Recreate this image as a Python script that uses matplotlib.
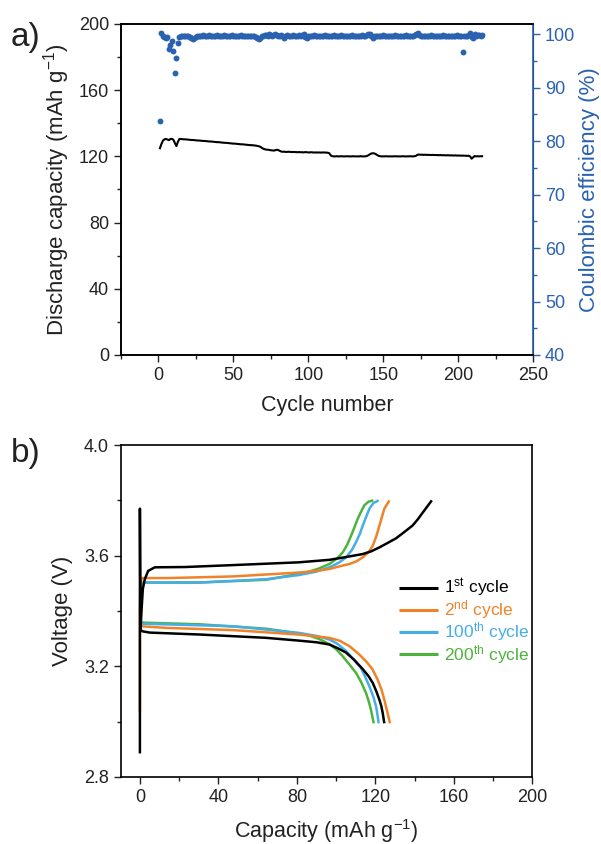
import matplotlib
matplotlib.use("Agg")
import matplotlib.pyplot as plt
import numpy as np
from matplotlib.ticker import MultipleLocator, FormatStrFormatter

plt.rcParams['font.family'] = ['Liberation Sans', 'DejaVu Sans']
plt.rcParams['mathtext.fontset'] = 'custom'
plt.rcParams['mathtext.rm'] = 'Liberation Sans'
plt.rcParams['mathtext.it'] = 'Liberation Sans:italic'

TXT = '#222222'
BLUE = '#2a62b0'

# ---- panel a: cycling data ----
cycles = np.arange(1, 217)

capacity = [
    124.9, 127.5, 129.5, 130.3, 130.5, 130.2, 129.8, 130.5, 130.6, 130.0, 128.0, 126.2,
    128.8, 130.5, 130.5, 130.4, 130.3, 130.3, 130.2, 130.1, 130.0, 129.9, 129.9, 129.8,
    129.7, 129.6, 129.6, 129.5, 129.4, 129.3, 129.3, 129.2, 129.1, 129.0, 129.0, 128.9,
    128.8, 128.7, 128.6, 128.6, 128.5, 128.4, 128.3, 128.2, 128.2, 128.1, 128.0, 127.9,
    127.8, 127.7, 127.7, 127.6, 127.5, 127.4, 127.3, 127.3, 127.2, 127.1, 127.0, 126.9,
    126.8, 126.8, 126.7, 126.6, 126.5, 126.3, 126.1, 125.8, 125.2, 124.6, 124.3, 124.1,
    124.0, 123.9, 123.7, 123.6, 123.5, 123.7, 124.0, 123.8, 123.3, 122.9, 122.8, 122.8,
    122.7, 122.7, 122.8, 122.7, 122.6, 122.7, 122.6, 122.6, 122.5, 122.6, 122.5, 122.5,
    122.4, 122.6, 122.5, 122.4, 122.4, 122.5, 122.4, 122.3, 122.4, 122.3, 122.4, 122.3,
    122.3, 122.4, 122.3, 122.3, 122.2, 121.9, 120.6, 120.1, 120.0, 120.0, 120.1, 120.0,
    120.0, 120.1, 120.0, 120.0, 120.0, 120.1, 120.0, 120.0, 120.0, 120.1, 120.0, 120.0,
    120.0, 120.0, 120.1, 120.0, 120.0, 120.0, 120.2, 120.6, 121.2, 121.7, 121.9, 121.8,
    121.4, 120.8, 120.3, 120.1, 120.0, 120.0, 120.0, 120.1, 120.0, 120.0, 120.0, 120.0,
    120.0, 120.1, 120.0, 120.0, 120.0, 120.0, 120.1, 120.0, 120.0, 120.0, 120.0, 120.1,
    120.0, 120.0, 120.1, 120.4, 121.0, 121.1, 121.0, 121.0, 120.9, 121.0, 120.9, 120.9,
    120.9, 120.8, 120.9, 120.8, 120.8, 120.8, 120.7, 120.8, 120.7, 120.7, 120.7, 120.6,
    120.7, 120.6, 120.6, 120.6, 120.5, 120.6, 120.5, 120.5, 120.5, 120.4, 120.5, 120.4,
    120.4, 120.3, 120.4, 120.0, 118.6, 119.4, 120.2, 120.0, 120.1, 120.0, 120.1, 120.1,
]

efficiency = [
    83.7, 100.2, 99.6, 99.5, 99.3, 99.4, 97.3, 97.9, 98.7, 96.9, 92.8, 95.5,
    98.3, 99.4, 99.6, 99.6, 99.7, 99.7, 99.7, 99.6, 99.5, 99.3, 99.1, 99.2,
    99.4, 99.6, 99.7, 99.7, 99.7, 99.8, 99.7, 99.7, 99.7, 99.8, 99.7, 99.7,
    99.7, 99.7, 99.8, 99.7, 99.7, 99.7, 99.7, 99.8, 99.7, 99.7, 99.7, 99.7,
    99.8, 99.7, 99.7, 99.7, 99.7, 99.7, 99.8, 99.7, 99.7, 99.7, 99.7, 99.7,
    99.7, 99.7, 99.7, 99.6, 99.5, 99.2, 99.0, 99.3, 99.6, 99.7, 99.8, 99.9,
    99.7, 100.0, 99.8, 99.7, 99.9, 100.1, 99.8, 99.6, 99.7, 99.9, 99.7, 99.3,
    99.7, 99.8, 99.7, 99.7, 99.7, 99.8, 99.7, 99.7, 99.7, 99.8, 99.7, 99.9,
    100.1, 99.4, 99.2, 99.6, 99.7, 99.7, 99.7, 99.8, 99.7, 99.7, 99.7, 99.7,
    99.7, 99.7, 99.8, 99.7, 99.7, 99.7, 99.7, 99.7, 99.8, 99.7, 99.7, 99.7,
    99.7, 99.8, 99.7, 99.7, 99.7, 99.7, 99.7, 99.7, 99.8, 99.7, 99.7, 99.7,
    99.7, 99.7, 99.7, 99.8, 99.7, 99.7, 99.8, 100.0, 100.1, 99.6, 99.3, 99.6,
    99.7, 99.7, 99.7, 99.7, 99.7, 99.8, 99.7, 99.7, 99.7, 99.7, 99.7, 99.7,
    99.7, 99.8, 99.7, 99.7, 99.7, 99.7, 99.7, 99.7, 99.8, 99.7, 99.7, 99.7,
    99.7, 99.7, 99.8, 100.0, 100.2, 99.9, 99.7, 99.7, 99.7, 99.7, 99.7, 99.7,
    99.7, 99.8, 99.7, 99.7, 99.7, 99.7, 99.7, 99.7, 99.7, 99.8, 99.7, 99.7,
    99.7, 99.7, 99.7, 99.7, 99.7, 99.7, 99.8, 99.7, 99.7, 99.7, 96.6, 99.7,
    99.7, 99.6, 99.9, 100.3, 99.4, 99.2, 100.1, 99.6, 99.9, 99.8, 99.7, 99.8,
]

# ---- panel b: voltage profiles (capacity mAh/g, voltage V) ----
c1_chg_q = [0, 0, 0.3, 0.8, 1.5, 2.5, 4.2, 7.6, 22.9, 47.5, 81.0, 96.6, 105.0, 113.6,
            118.0, 122.1, 126.0, 130.6, 134.5, 139.0, 141.5, 144.1, 146.5, 148.8]
c1_chg_v = [2.885, 3.770, 3.330, 3.400, 3.480, 3.515, 3.545, 3.558, 3.559, 3.566, 3.576,
            3.585, 3.595, 3.606, 3.616, 3.630, 3.645, 3.663, 3.684, 3.709, 3.730, 3.755,
            3.778, 3.800]
c1_dis_q = [0.3, 1.0, 5.0, 30.5, 64.4, 81.0, 90.0, 96.6, 101.0, 105.0, 109.0, 113.6,
            116.5, 118.7, 120.5, 122.1, 123.1, 123.8, 124.6]
c1_dis_v = [3.335, 3.327, 3.322, 3.315, 3.303, 3.293, 3.287, 3.279, 3.265, 3.250, 3.225,
            3.190, 3.165, 3.140, 3.110, 3.079, 3.055, 3.030, 2.994]

c2_chg_q = [0, 0, 0.3, 1.0, 13.6, 47.5, 81.0, 90.0, 96.6, 102.0, 106.8, 110.5, 113.6,
            116.5, 118.7, 120.5, 122.1, 124.6, 127.2]
c2_chg_v = [3.036, 3.400, 3.500, 3.519, 3.519, 3.525, 3.539, 3.545, 3.552, 3.562, 3.570,
            3.580, 3.594, 3.612, 3.636, 3.670, 3.709, 3.770, 3.800]
c2_dis_q = [0.3, 13.6, 47.5, 81.0, 96.6, 102.0, 106.8, 111.5, 115.3, 118.5, 121.2,
            123.2, 124.6, 126.3, 127.5]
c2_dis_v = [3.345, 3.339, 3.331, 3.315, 3.303, 3.292, 3.273, 3.245, 3.218, 3.190, 3.152,
            3.115, 3.079, 3.030, 2.994]

c100_chg_q = [0.3, 1.2, 1.7, 30.5, 64.4, 81.0, 89.8, 96.6, 101.5, 105.1, 108.0, 110.2,
              112.2, 113.6, 115.3, 117.0, 119.0, 121.7]
c100_chg_v = [3.400, 3.500, 3.503, 3.503, 3.515, 3.530, 3.542, 3.558, 3.575, 3.594, 3.620,
              3.649, 3.680, 3.709, 3.740, 3.770, 3.790, 3.800]
c100_dis_q = [0.5, 1.7, 47.5, 81.0, 90.0, 96.6, 101.0, 105.1, 109.0, 112.7, 115.0, 117.0,
              119.0, 120.4, 121.2, 121.7]
c100_dis_v = [3.356, 3.354, 3.345, 3.321, 3.310, 3.297, 3.280, 3.255, 3.225, 3.194, 3.160,
              3.127, 3.090, 3.055, 3.020, 2.994]

c200_chg_q = [0.3, 1.0, 1.7, 30.5, 64.4, 84.7, 91.0, 96.6, 100.5, 103.4, 105.7, 107.7,
              109.5, 111.0, 112.8, 114.4, 116.5, 119.0]
c200_chg_v = [3.360, 3.490, 3.503, 3.503, 3.513, 3.539, 3.553, 3.570, 3.590, 3.612, 3.640,
              3.673, 3.705, 3.733, 3.760, 3.782, 3.795, 3.800]
c200_dis_q = [0.5, 1.7, 30.5, 64.4, 84.7, 91.0, 96.6, 100.0, 103.4, 107.0, 110.2, 113.0,
              115.3, 116.8, 117.8, 118.6, 119.2]
c200_dis_v = [3.360, 3.358, 3.352, 3.336, 3.315, 3.300, 3.280, 3.262, 3.236, 3.205, 3.176,
              3.140, 3.103, 3.070, 3.042, 3.015, 2.994]

fig = plt.figure(figsize=(6.01, 8.44), dpi=100)

# ---------------- a) ----------------
ax1 = fig.add_axes([0.2013, 0.5794, 0.6856, 0.3922])
ax1.plot(cycles, capacity, color='black', lw=1.5)
ax1.set_xlim(-25, 250)
ax1.set_ylim(0, 200)
ax1.xaxis.set_major_locator(MultipleLocator(50))
ax1.xaxis.set_minor_locator(MultipleLocator(25))
ax1.yaxis.set_major_locator(MultipleLocator(40))
ax1.yaxis.set_minor_locator(MultipleLocator(20))
ax1.set_xlabel('Cycle number', fontsize=15.5, color=TXT, labelpad=8)
ax1.set_ylabel('Discharge capacity (mAh g$^{-1}$)', fontsize=16, color=TXT, labelpad=5)

ax2 = ax1.twinx()
ax2.scatter(cycles, efficiency, s=18, color=BLUE, zorder=3, linewidths=0)
ax2.set_ylim(40, 101.9)
ax2.yaxis.set_major_locator(MultipleLocator(10))
ax2.yaxis.set_minor_locator(MultipleLocator(5))
ax2.set_ylabel('Coulombic efficiency (%)', fontsize=16, color=BLUE, labelpad=3)
ax2.spines['right'].set_color(BLUE)
ax2.tick_params(axis='y', which='both', colors=BLUE, labelsize=13)
ax2.tick_params(axis='y', which='major', length=5, width=1)
ax2.tick_params(axis='y', which='minor', length=3, width=1)

for ax in (ax1, ax2):
    for s in ('left', 'bottom', 'top'):
        ax.spines[s].set_linewidth(1.2)
ax2.spines['right'].set_linewidth(1.2)
ax1.tick_params(which='both', direction='out', labelsize=13, colors=TXT)
ax1.tick_params(which='major', length=5, width=1)
ax1.tick_params(which='minor', length=3, width=1)
ax1.tick_params(axis='y', which='both', right=False)

fig.text(0.018, 0.946, 'a)', fontsize=24, color=TXT)

# ---------------- b) ----------------
ax3 = fig.add_axes([0.2008, 0.0794, 0.6848, 0.3933])
series = [
    (c1_chg_q, c1_chg_v, c1_dis_q, c1_dis_v, 'black', '1$^{\\mathrm{st}}$ cycle'),
    (c2_chg_q, c2_chg_v, c2_dis_q, c2_dis_v, '#f08228', '2$^{\\mathrm{nd}}$ cycle'),
    (c100_chg_q, c100_chg_v, c100_dis_q, c100_dis_v, '#45aee8', '100$^{\\mathrm{th}}$ cycle'),
    (c200_chg_q, c200_chg_v, c200_dis_q, c200_dis_v, '#4db33d', '200$^{\\mathrm{th}}$ cycle'),
]
handles = []
for z, (cq, cv, dq, dv, col, lab) in zip([5, 4, 3, 2], series):
    h, = ax3.plot(cq, cv, color=col, lw=1.8, label=lab, zorder=z,
                  solid_joinstyle='round', solid_capstyle='butt')
    ax3.plot(dq, dv, color=col, lw=1.8, zorder=z,
             solid_joinstyle='round', solid_capstyle='butt')
    handles.append(h)

ax3.set_xlim(-9.8, 200)
ax3.set_ylim(2.8, 4.0)
ax3.xaxis.set_major_locator(MultipleLocator(40))
ax3.xaxis.set_minor_locator(MultipleLocator(20))
ax3.yaxis.set_major_locator(MultipleLocator(0.4))
ax3.yaxis.set_minor_locator(MultipleLocator(0.2))
ax3.yaxis.set_major_formatter(FormatStrFormatter('%.1f'))
ax3.set_xlabel('Capacity (mAh g$^{-1}$)', fontsize=15.5, color=TXT, labelpad=8)
ax3.set_ylabel('Voltage (V)', fontsize=16, color=TXT, labelpad=8)
for s in ax3.spines.values():
    s.set_linewidth(1.2)
ax3.tick_params(which='both', direction='out', labelsize=13, colors=TXT)
ax3.tick_params(which='major', length=5, width=1)
ax3.tick_params(which='minor', length=3, width=1)

leg = ax3.legend(handles=handles, loc='upper left', bbox_to_anchor=(0.677, 0.603),
                 frameon=False, fontsize=12.5, handlelength=2.25, handletextpad=0.3,
                 labelspacing=-0.05, borderpad=0, borderaxespad=0,
                 labelcolor='linecolor')
for line in leg.get_lines():
    line.set_linewidth(2.2)

fig.text(0.018, 0.453, 'b)', fontsize=24, color=TXT)

fig.savefig('out.png', dpi=100)
